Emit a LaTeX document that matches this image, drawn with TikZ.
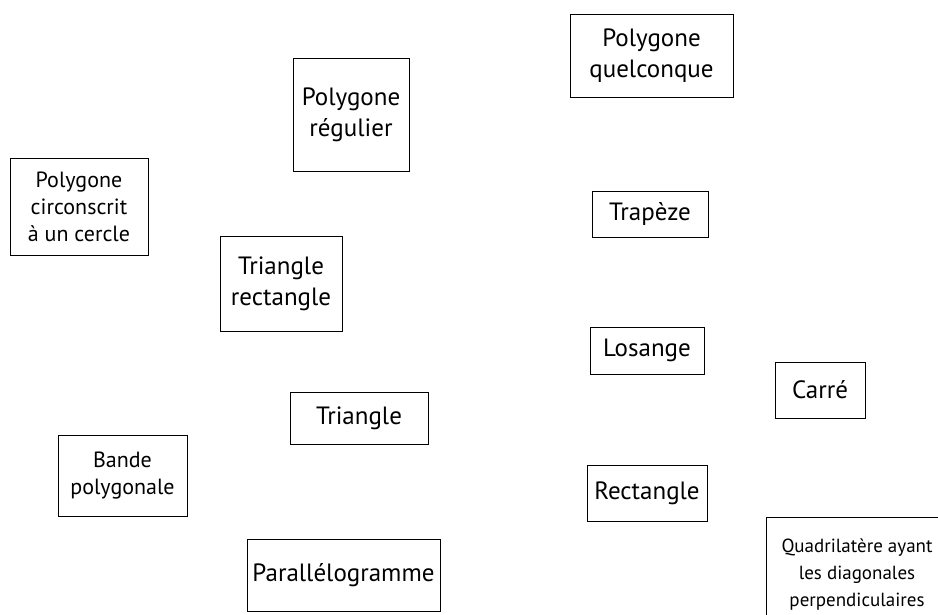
\documentclass[tikz,border=0pt]{standalone}
\usepackage{fontspec}
\setmainfont{PT Sans}
\begin{document}
\begin{tikzpicture}[x=1pt,y=-1pt,
  box/.style={draw=black,line width=0.9pt,align=center,inner sep=0pt,anchor=center},
  big/.style={font=\fontsize{25}{31}\selectfont},
  mid/.style={font=\fontsize{22}{27}\selectfont},
  small/.style={font=\fontsize{19}{27}\selectfont}]
\useasboundingbox (0,0) rectangle (938,615);
\node[box,big,minimum width=163pt,minimum height=83pt] (quelc) at (651.5,55.5) {Polygone\\quelconque};
\node[box,big,minimum width=116pt,minimum height=113pt] (reg) at (351,114.5) {Polygone\\régulier};
\node[box,mid,minimum width=138pt,minimum height=97pt] (circ) at (79,206.5) {Polygone\\circonscrit\\à un cercle};
\node[box,big,minimum width=116pt,minimum height=46pt] (trap) at (650,214) {Trapèze};
\node[box,big,minimum width=122pt,minimum height=95pt] (trirect) at (281,283.5) {Triangle\\rectangle};
\node[box,big,minimum width=114pt,minimum height=47pt] (los) at (647,350.5) {Losange};
\node[box,big,minimum width=90pt,minimum height=56pt] (carre) at (820,390) {Carré};
\node[box,big,minimum width=138pt,minimum height=52pt] (tri) at (359,418) {Triangle};
\node[box,mid,minimum width=129pt,minimum height=81pt] (bande) at (122.5,475.5) {Bande\\polygonale};
\node[box,big,minimum width=120pt,minimum height=56pt] (rect) at (647,493) {Rectangle};
\node[box,small,minimum width=182pt,minimum height=116pt] (quad) at (857,575) {Quadrilatère ayant\\les diagonales\\perpendiculaires};
\node[box,big,minimum width=193pt,minimum height=72pt] (para) at (343.5,575) {Parallélogramme};
\end{tikzpicture}
\end{document}
